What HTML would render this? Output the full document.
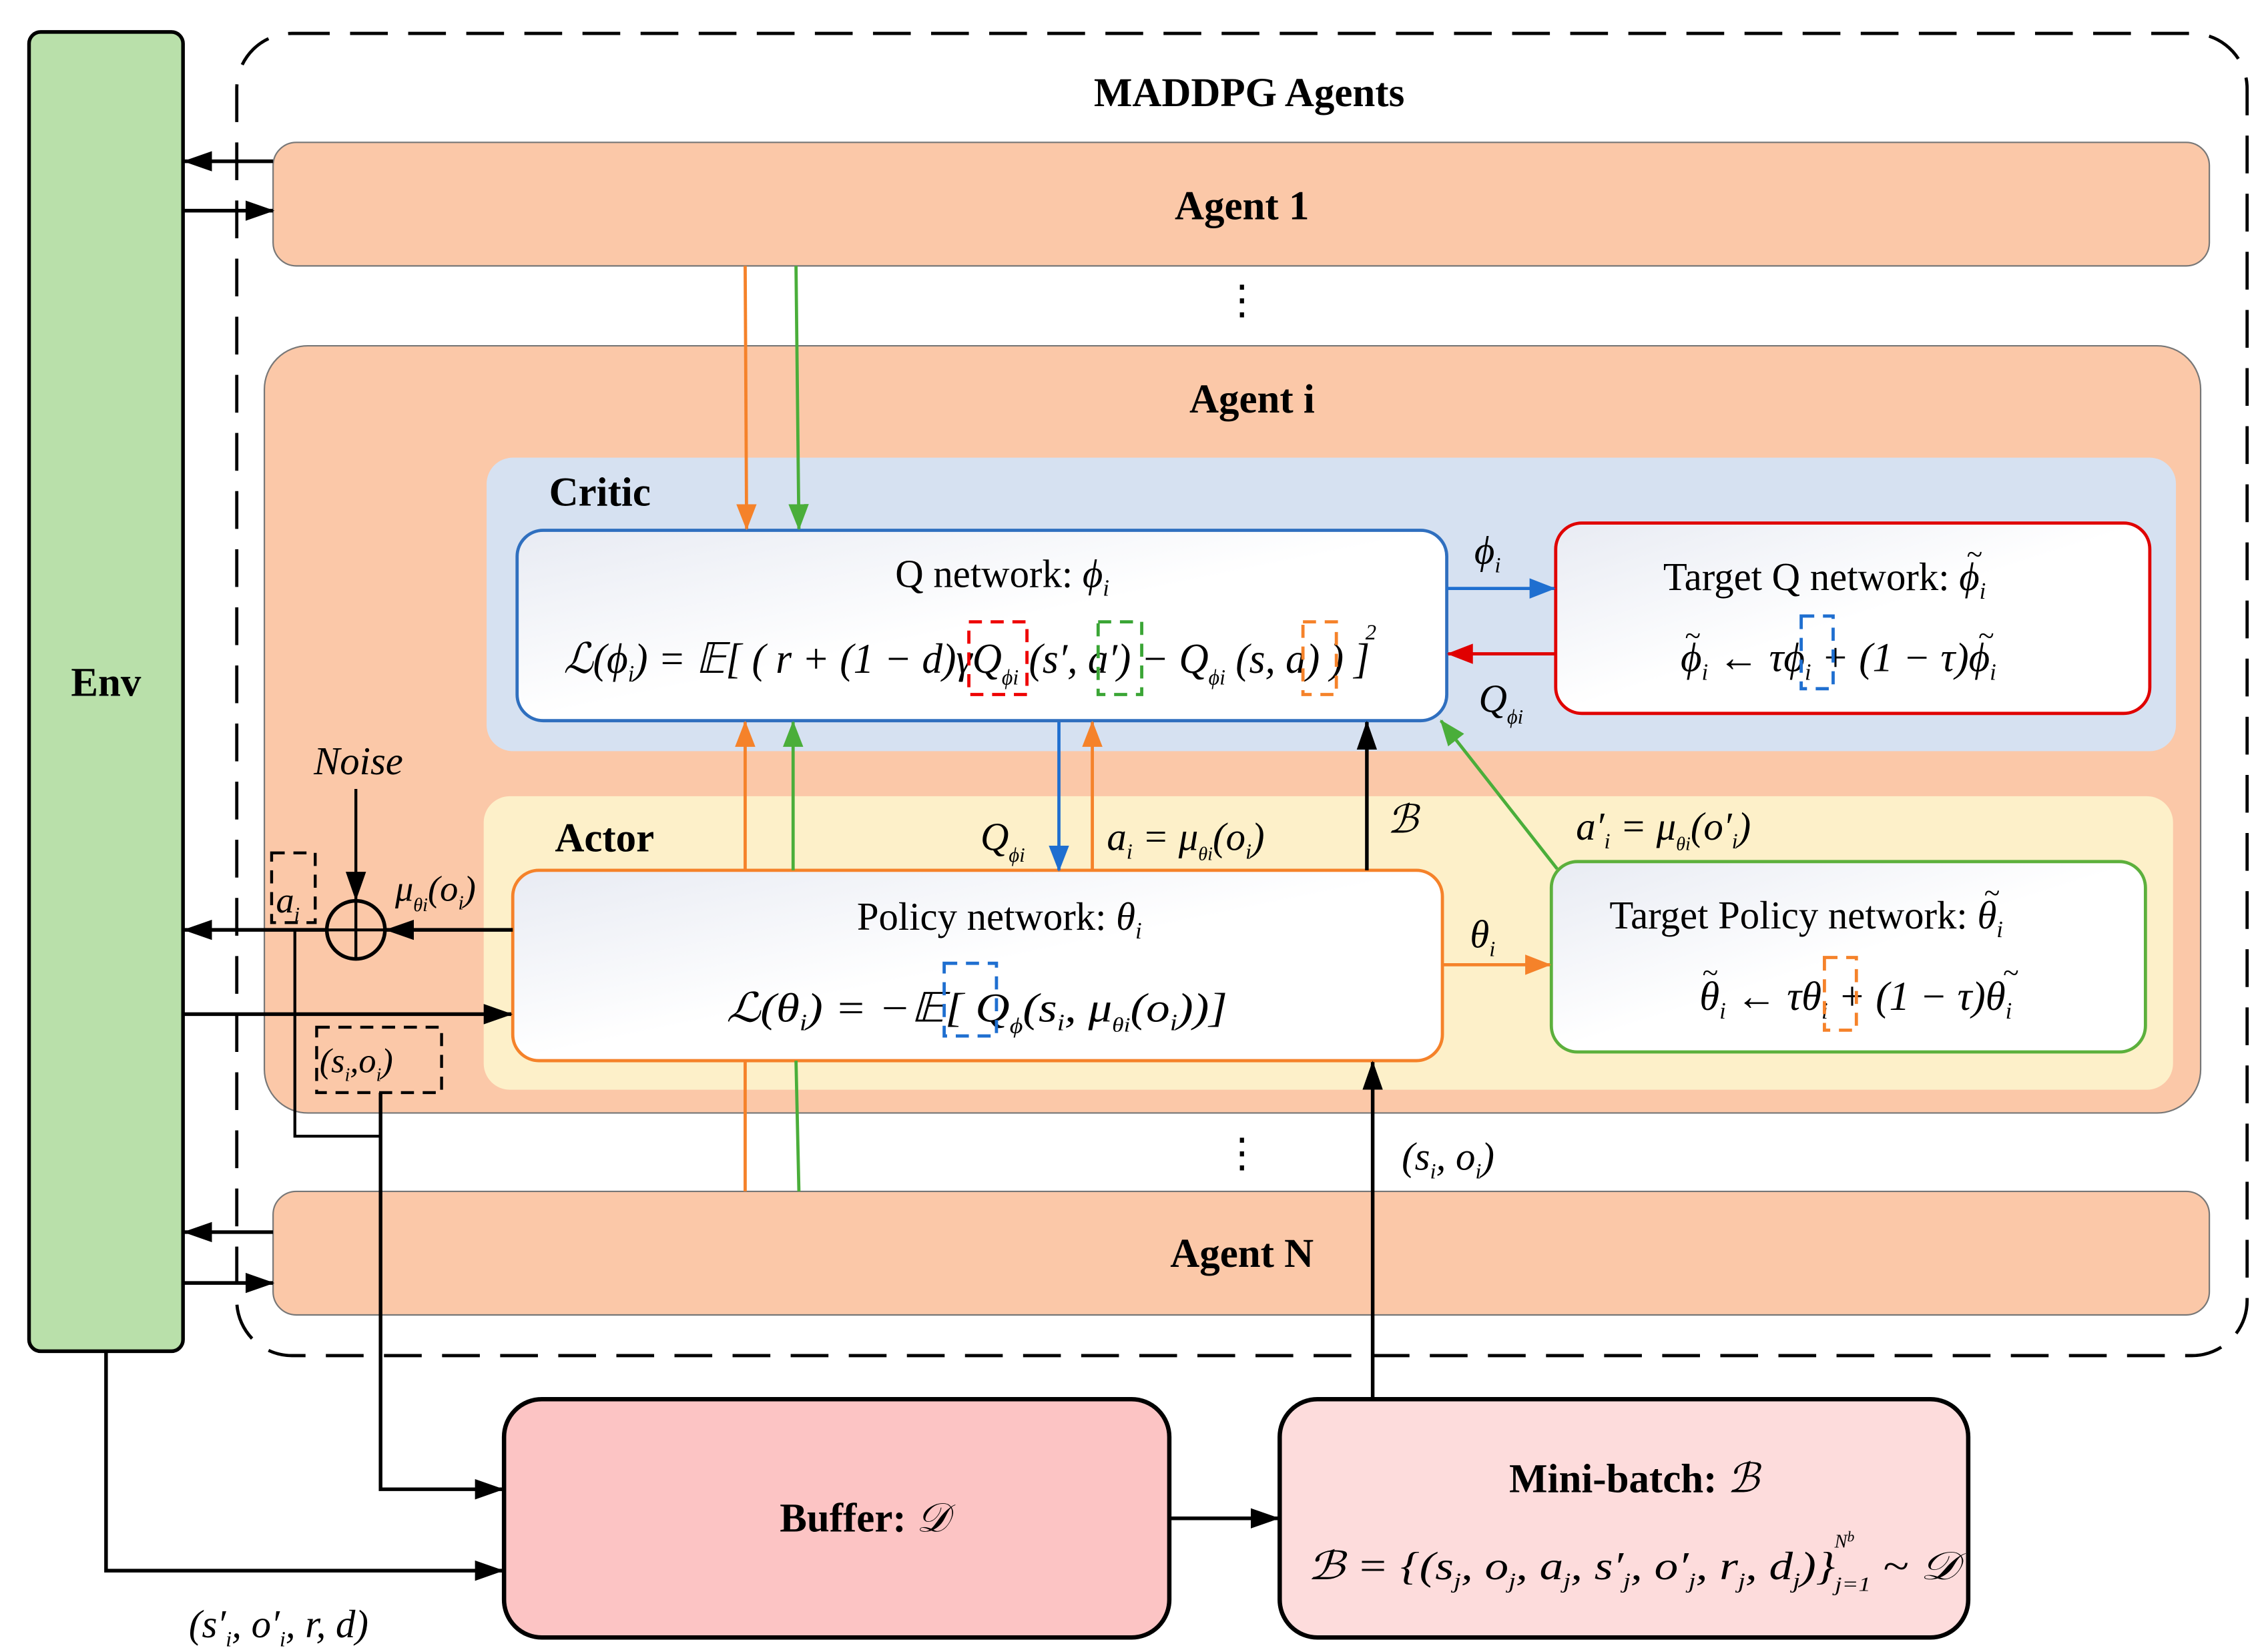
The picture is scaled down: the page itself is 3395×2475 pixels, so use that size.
<!DOCTYPE html>
<html><head><meta charset="utf-8"><style>html,body{margin:0;padding:0;background:#fff}svg{display:block}</style></head>
<body>
<svg width="3395" height="2475" viewBox="0 0 1560 1137" preserveAspectRatio="none" xmlns="http://www.w3.org/2000/svg" font-family="Liberation Serif, serif">
<defs>
<marker id="ab" markerWidth="18" markerHeight="14" refX="17" refY="7" orient="auto" markerUnits="userSpaceOnUse" viewBox="0 0 18 14"><path d="M0,0 L18,7 L0,14 Z" fill="#1f6fd0"/></marker>
<marker id="ao" markerWidth="18" markerHeight="14" refX="17" refY="7" orient="auto" markerUnits="userSpaceOnUse" viewBox="0 0 18 14"><path d="M0,0 L18,7 L0,14 Z" fill="#f5822a"/></marker>
<marker id="ag" markerWidth="18" markerHeight="14" refX="17" refY="7" orient="auto" markerUnits="userSpaceOnUse" viewBox="0 0 18 14"><path d="M0,0 L18,7 L0,14 Z" fill="#4aae3a"/></marker>
<marker id="ar" markerWidth="18" markerHeight="14" refX="17" refY="7" orient="auto" markerUnits="userSpaceOnUse" viewBox="0 0 18 14"><path d="M0,0 L18,7 L0,14 Z" fill="#e00000"/></marker>
<marker id="abk" markerWidth="20" markerHeight="14" refX="19" refY="7" orient="auto" markerUnits="userSpaceOnUse" viewBox="0 0 20 14"><path d="M0,0 L20,7 L0,14 Z" fill="#000"/></marker>
<linearGradient id="wg" x1="0" y1="0" x2="1" y2="1"><stop offset="0" stop-color="#e8ebf3"/><stop offset="0.5" stop-color="#ffffff"/><stop offset="1" stop-color="#ffffff"/></linearGradient>
</defs>
<rect width="1560" height="1137" fill="#fff"/>
<rect x="163" y="23" width="1384" height="910" rx="38" fill="none" stroke="#000" stroke-width="2.2" stroke-dasharray="26,14"/>
<text x="860" y="73" font-size="28" font-weight="bold" text-anchor="middle">MADDPG Agents</text>
<rect x="20" y="22" width="106" height="908" rx="8" fill="#b9e0aa" stroke="#000" stroke-width="2.5"/>
<text x="73" y="479" font-size="28" font-weight="bold" text-anchor="middle">Env</text>
<rect x="188" y="98" width="1333" height="85" rx="16" fill="#fbc8a8" stroke="#777" stroke-width="1"/>
<text x="855" y="151" font-size="28" font-weight="bold" text-anchor="middle">Agent 1</text>
<text x="855" y="216" font-size="28" text-anchor="middle">⋮</text>
<rect x="182" y="238" width="1333" height="528" rx="30" fill="#fbc8a8" stroke="#777" stroke-width="1"/>
<text x="862" y="284" font-size="28" font-weight="bold" text-anchor="middle">Agent i</text>
<rect x="335" y="315" width="1163" height="202" rx="18" fill="#d6e1f1"/>
<text x="378" y="348" font-size="28" font-weight="bold">Critic</text>
<rect x="333" y="548" width="1163" height="202" rx="18" fill="#fdf0c9"/>
<text x="382" y="586" font-size="28" font-weight="bold">Actor</text>
<rect x="356" y="365" width="640" height="131" rx="18" fill="url(#wg)" stroke="#2f6fbf" stroke-width="2.2"/>
<text x="690" y="404" font-size="27" text-anchor="middle">Q network: <tspan font-style="italic">ϕ</tspan><tspan font-size="16" dy="6" font-style="italic">i</tspan></text>
<text x="388" y="463" font-size="29" font-style="italic" textLength="555" lengthAdjust="spacingAndGlyphs">ℒ(ϕ<tspan font-size="16" dy="6">i</tspan><tspan dy="-6">) = 𝔼[ ( r + (1 − d)γQ</tspan><tspan font-size="15" dy="8">ϕi</tspan><tspan dy="-8"> (s′, a′) − Q</tspan><tspan font-size="15" dy="8">ϕi</tspan><tspan dy="-8"> (s, a) ) ]</tspan></text>
<text x="940" y="440" font-size="15" font-style="italic">2</text>
<rect x="667" y="428" width="40" height="50" fill="none" stroke="#e00" stroke-width="2.2" stroke-dasharray="9,6"/>
<rect x="756" y="428" width="30" height="50" fill="none" stroke="#3aa535" stroke-width="2.2" stroke-dasharray="9,6"/>
<rect x="897" y="428" width="23" height="50" fill="none" stroke="#f5822a" stroke-width="2.2" stroke-dasharray="9,6"/>
<rect x="1071" y="360" width="409" height="131" rx="18" fill="url(#wg)" stroke="#e00000" stroke-width="2.2"/>
<text x="1145" y="406" font-size="27">Target Q network:  <tspan font-style="italic">ϕ</tspan><tspan font-size="16" dy="6" font-style="italic">i</tspan></text>
<text x="1354" y="388" font-size="20">~</text>
<text x="1157" y="462" font-size="28" font-style="italic">ϕ<tspan font-size="16" dy="6">i</tspan><tspan dy="-6"> ← τϕ</tspan><tspan font-size="16" dy="6">i</tspan><tspan dy="-6"> + (1 − τ)ϕ</tspan><tspan font-size="16" dy="6">i</tspan></text>
<text x="1160" y="444" font-size="20">~</text>
<text x="1362" y="444" font-size="20">~</text>
<rect x="1240" y="424" width="22" height="50" fill="none" stroke="#1f6fd0" stroke-width="2.2" stroke-dasharray="9,6"/>
<rect x="353" y="599" width="640" height="131" rx="18" fill="url(#wg)" stroke="#f5822a" stroke-width="2.2"/>
<text x="688" y="640" font-size="27" text-anchor="middle">Policy network:  <tspan font-style="italic">θ</tspan><tspan font-size="16" dy="6" font-style="italic">i</tspan></text>
<text x="500" y="703" font-size="28" font-style="italic" textLength="345" lengthAdjust="spacingAndGlyphs">ℒ(θ<tspan font-size="16" dy="6">i</tspan><tspan dy="-6">) = −𝔼[ Q</tspan><tspan font-size="15" dy="8">ϕ</tspan><tspan dy="-8">(s</tspan><tspan font-size="16" dy="6">i</tspan><tspan dy="-6">, μ</tspan><tspan font-size="14" dy="7">θi</tspan><tspan dy="-7">(o</tspan><tspan font-size="16" dy="6">i</tspan><tspan dy="-6">))]</tspan></text>
<rect x="650" y="663" width="36" height="50" fill="none" stroke="#1f6fd0" stroke-width="2.2" stroke-dasharray="9,6"/>
<rect x="1068" y="593" width="409" height="131" rx="18" fill="url(#wg)" stroke="#5cb03c" stroke-width="2.2"/>
<text x="1108" y="639" font-size="27">Target Policy network:  <tspan font-style="italic">θ</tspan><tspan font-size="16" dy="6" font-style="italic">i</tspan></text>
<text x="1366" y="621" font-size="20">~</text>
<text x="1170" y="695" font-size="28" font-style="italic">θ<tspan font-size="16" dy="6">i</tspan><tspan dy="-6"> ← τθ</tspan><tspan font-size="16" dy="6">i</tspan><tspan dy="-6"> + (1 − τ)θ</tspan><tspan font-size="16" dy="6">i</tspan></text>
<text x="1172" y="676" font-size="20">~</text>
<text x="1379" y="676" font-size="20">~</text>
<rect x="1256" y="659" width="22" height="50" fill="none" stroke="#f5822a" stroke-width="2.2" stroke-dasharray="9,6"/>
<text x="855" y="803" font-size="28" text-anchor="middle">⋮</text>
<rect x="188" y="820" width="1333" height="85" rx="16" fill="#fbc8a8" stroke="#777" stroke-width="1"/>
<text x="855" y="872" font-size="28" font-weight="bold" text-anchor="middle">Agent N</text>
<rect x="347" y="963" width="458" height="164" rx="26" fill="#fcc4c4" stroke="#000" stroke-width="3"/>
<text x="595" y="1054" font-size="28" text-anchor="middle"><tspan font-weight="bold">Buffer:</tspan> <tspan font-style="italic">𝒟</tspan></text>
<rect x="881" y="963" width="474" height="164" rx="26" fill="#fddcdc" stroke="#000" stroke-width="3"/>
<text x="1125" y="1027" font-size="28" text-anchor="middle"><tspan font-weight="bold">Mini-batch:</tspan> <tspan font-style="italic">ℬ</tspan></text>
<text x="900" y="1087" font-size="27" font-style="italic" textLength="448" lengthAdjust="spacingAndGlyphs">ℬ = {(s<tspan font-size="15" dy="6">j</tspan><tspan dy="-6">, o</tspan><tspan font-size="15" dy="6">j</tspan><tspan dy="-6">, a</tspan><tspan font-size="15" dy="6">j</tspan><tspan dy="-6">, s′</tspan><tspan font-size="15" dy="6">j</tspan><tspan dy="-6">, o′</tspan><tspan font-size="15" dy="6">j</tspan><tspan dy="-6">, r</tspan><tspan font-size="15" dy="6">j</tspan><tspan dy="-6">, d</tspan><tspan font-size="15" dy="6">j</tspan><tspan dy="-6">)}</tspan><tspan font-size="14" dy="8">j=1</tspan><tspan dy="-8"> ~ 𝒟</tspan></text>
<text x="1263" y="1065" font-size="13" font-style="italic">N<tspan font-size="10" dy="-4">b</tspan></text>
<g stroke="#000" stroke-width="2.5" fill="none">
<line x1="188" y1="111" x2="127" y2="111" marker-end="url(#abk)"/>
<line x1="126" y1="145" x2="188" y2="145" marker-end="url(#abk)"/>
<line x1="188" y1="848" x2="127" y2="848" marker-end="url(#abk)"/>
<line x1="126" y1="883" x2="188" y2="883" marker-end="url(#abk)"/>
<line x1="353" y1="640" x2="266" y2="640" marker-end="url(#abk)"/>
<line x1="225" y1="640" x2="127" y2="640" marker-end="url(#abk)"/>
<line x1="245" y1="543" x2="245" y2="619" stroke-width="2" marker-end="url(#abk)"/>
<line x1="126" y1="698" x2="352" y2="698" marker-end="url(#abk)"/>
<circle cx="245" cy="640" r="20" stroke-width="2.5"/>
<line x1="225" y1="640" x2="265" y2="640" stroke-width="2"/>
<line x1="245" y1="620" x2="245" y2="660" stroke-width="2"/>
<polyline points="203,640 203,782 262,782" stroke-width="2"/>
<polyline points="262,752 262,1025 346,1025" marker-end="url(#abk)"/>
<polyline points="73,930 73,1081 346,1081" marker-end="url(#abk)"/>
<line x1="805" y1="1045" x2="880" y2="1045" marker-end="url(#abk)"/>
<line x1="945" y1="963" x2="945" y2="731" marker-end="url(#abk)"/>
<line x1="941" y1="599" x2="941" y2="497" marker-end="url(#abk)"/>
</g>
<rect x="187" y="587" width="30" height="48" fill="none" stroke="#000" stroke-width="2" stroke-dasharray="9,6"/>
<rect x="218" y="707" width="86" height="45" fill="none" stroke="#000" stroke-width="2" stroke-dasharray="9,6"/>
<g stroke-width="2.2" fill="none">
<line x1="513" y1="183" x2="514" y2="364" stroke="#f5822a" marker-end="url(#ao)"/>
<line x1="548" y1="183" x2="550" y2="364" stroke="#4aae3a" marker-end="url(#ag)"/>
<line x1="513" y1="599" x2="513" y2="497" stroke="#f5822a" marker-end="url(#ao)"/>
<line x1="546" y1="599" x2="546" y2="497" stroke="#4aae3a" marker-end="url(#ag)"/>
<line x1="513" y1="820" x2="513" y2="730" stroke="#f5822a"/>
<line x1="550" y1="820" x2="548" y2="730" stroke="#4aae3a"/>
<line x1="729" y1="497" x2="729" y2="599" stroke="#1f6fd0" marker-end="url(#ab)"/>
<line x1="752" y1="599" x2="752" y2="497" stroke="#f5822a" marker-end="url(#ao)"/>
<line x1="1072" y1="598" x2="992" y2="496" stroke="#4aae3a" marker-end="url(#ag)"/>
<line x1="996" y1="405" x2="1070" y2="405" stroke="#1f6fd0" marker-end="url(#ab)"/>
<line x1="1071" y1="450" x2="997" y2="450" stroke="#e00000" marker-end="url(#ar)"/>
<line x1="993" y1="664" x2="1067" y2="664" stroke="#f5822a" marker-end="url(#ao)"/>
</g>
<g font-style="italic" font-size="27">
<text x="216" y="533">Noise</text>
<text x="190" y="628" font-size="25">a<tspan font-size="14" dy="6">i</tspan></text>
<text x="272" y="620" font-size="25">μ<tspan font-size="13" dy="7">θi</tspan><tspan dy="-7">(o</tspan><tspan font-size="14" dy="6">i</tspan><tspan dy="-6">)</tspan></text>
<text x="220" y="738" font-size="24">(s<tspan font-size="13" dy="6">i</tspan><tspan dy="-6">,o</tspan><tspan font-size="13" dy="6">i</tspan><tspan dy="-6">)</tspan></text>
<text x="675" y="585">Q<tspan font-size="14" dy="8">ϕi</tspan></text>
<text x="762" y="585">a<tspan font-size="15" dy="6">i</tspan><tspan dy="-6"> = μ</tspan><tspan font-size="13" dy="7">θi</tspan><tspan dy="-7">(o</tspan><tspan font-size="15" dy="6">i</tspan><tspan dy="-6">)</tspan></text>
<text x="955" y="573">ℬ</text>
<text x="1085" y="578">a′<tspan font-size="15" dy="6">i</tspan><tspan dy="-6"> = μ</tspan><tspan font-size="13" dy="7">θi</tspan><tspan dy="-7">(o′</tspan><tspan font-size="15" dy="6">i</tspan><tspan dy="-6">)</tspan></text>
<text x="1015" y="388">ϕ<tspan font-size="15" dy="6">i</tspan></text>
<text x="1018" y="490">Q<tspan font-size="14" dy="8">ϕi</tspan></text>
<text x="1012" y="652">θ<tspan font-size="15" dy="6">i</tspan></text>
<text x="965" y="805">(s<tspan font-size="15" dy="6">i</tspan><tspan dy="-6">, o</tspan><tspan font-size="15" dy="6">i</tspan><tspan dy="-6">)</tspan></text>
<text x="130" y="1127">(s′<tspan font-size="15" dy="6">i</tspan><tspan dy="-6">, o′</tspan><tspan font-size="15" dy="6">i</tspan><tspan dy="-6">, r, d)</tspan></text>
</g>
</svg>
</body></html>
